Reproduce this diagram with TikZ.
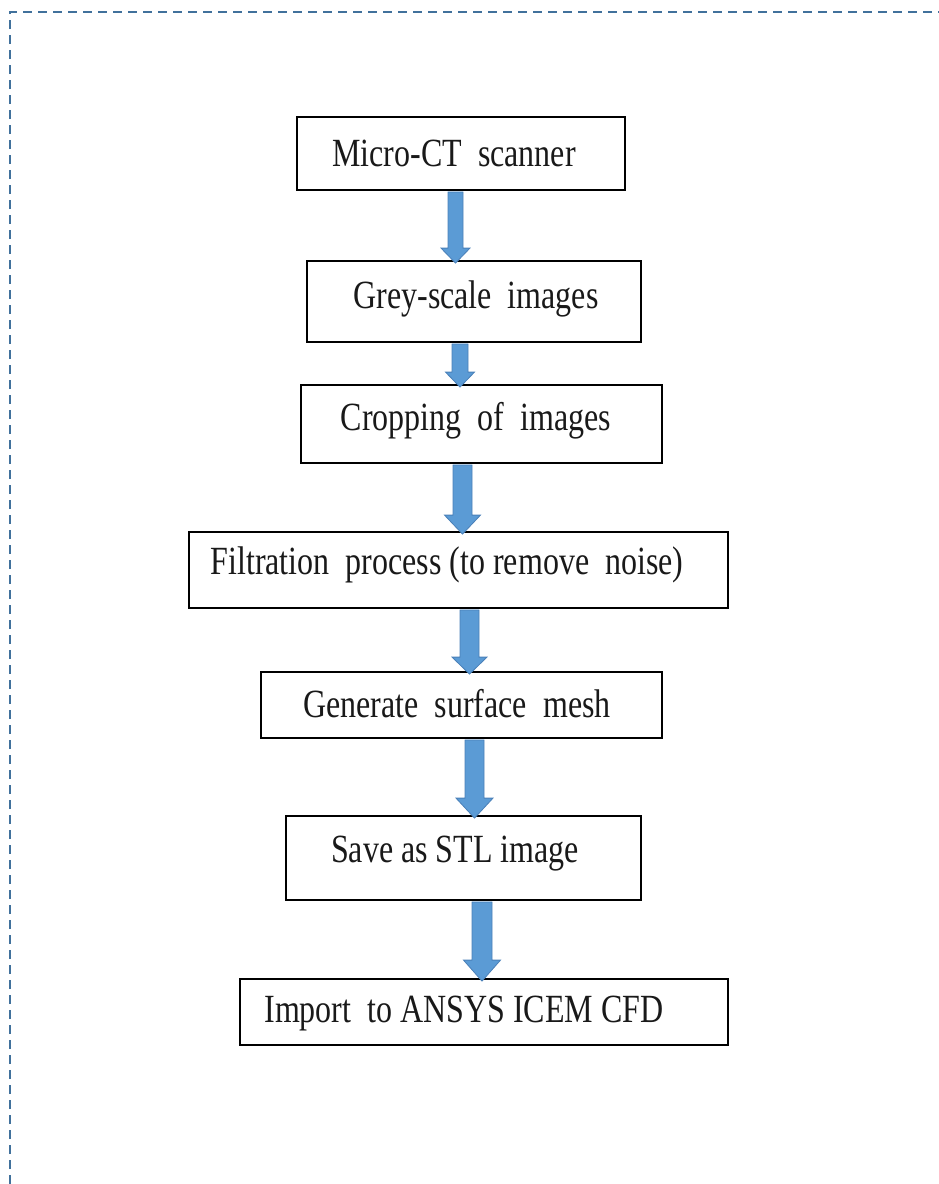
\documentclass[tikz,border=0pt]{standalone}
\usepackage{graphicx}
\usepackage{fontspec}
\setmainfont{Liberation Serif}
\usetikzlibrary{calc}

\definecolor{frameblue}{HTML}{41719C}
\definecolor{arrowfill}{HTML}{5B9BD5}
\definecolor{arrowline}{HTML}{4A80B8}

% Vertically stretched label text
\newcommand\tallText[1]{\scalebox{1}[1.25]{#1}}

% Block arrow from the bottom of one step to the top of the next.
% #1 from, #2 to, #3 x position, #4 shaft half width, #5 head half width, #6 head length
\newcommand\flowarrow[6]{%
  \path[blockarrow] let \p1=(#1.south), \p2=(#2.north), \p3=(#3,0) in
    (\x3-#4pt,\y1-1pt) -- (\x3+#4pt,\y1-1pt) -- (\x3+#4pt,\y2-3pt+#6pt)
    -- (\x3+#5pt,\y2-3pt+#6pt) -- (\x3,\y2-3pt) -- (\x3-#5pt,\y2-3pt+#6pt)
    -- (\x3-#4pt,\y2-3pt+#6pt) -- cycle;}

\begin{document}
\begin{tikzpicture}[x=1pt,y=-1pt,
  stepbox/.style={draw=black,line width=1.8pt,rectangle,inner sep=0pt},
  steptext/.style={anchor=base,inner sep=0pt,font=\fontsize{32}{38}\selectfont,text=black!90},
  blockarrow/.style={fill=arrowfill,draw=arrowline,line width=0.8pt,line join=miter},
  framestyle/.style={draw=frameblue,line width=2.8pt,dash pattern=on 9pt off 6pt}]

\useasboundingbox (0,0) rectangle (939,1184);

% dashed outer frame
\coordinate (fbl) at (10,1184);
\coordinate (ftl) at (10,12);
\coordinate (ftr) at (939,12);
\draw[framestyle] (fbl) -- (ftl) -- (ftr);

% process steps
\node[stepbox,minimum width=328pt,minimum height=73pt] (m1) at (461,153.5) {};
\node[stepbox,minimum width=334pt,minimum height=81pt] (m2) at (474,301.5) {};
\node[stepbox,minimum width=361pt,minimum height=78pt] (m3) at (481.5,424) {};
\node[stepbox,minimum width=539pt,minimum height=76pt] (m4) at (458.5,570) {};
\node[stepbox,minimum width=401pt,minimum height=66pt] (m5) at (461.5,705) {};
\node[stepbox,minimum width=355pt,minimum height=84pt] (m6) at (463.5,858) {};
\node[stepbox,minimum width=488pt,minimum height=66pt] (m7) at (484,1012) {};

\node[steptext] (t1) at (454,166)  {\tallText{Micro-CT\ \ scanner}};
\node[steptext] (t2) at (476,308)  {\tallText{Grey-scale\ \ images}};
\node[steptext] (t3) at (476,430)  {\tallText{Cropping\ \ of\ \ images}};
\node[steptext] (t4) at (447,574)  {\tallText{Filtration\ \ process (to remove\ \ noise)}};
\node[steptext] (t5) at (457,717)  {\tallText{Generate\ \ surface\ \ mesh}};
\node[steptext] (t6) at (455,862)  {\tallText{Save as STL image}};
\node[steptext] (t7) at (464,1022) {\tallText{Import\ \ to ANSYS ICEM CFD}};

% block arrows between the steps
\flowarrow{m1}{m2}{455.5}{7.5}{14.5}{15}
\flowarrow{m2}{m3}{460}{8}{14.5}{15}
\flowarrow{m3}{m4}{462.5}{9.5}{18}{19}
\flowarrow{m4}{m5}{469.5}{9.5}{17.5}{17}
\flowarrow{m5}{m6}{474.5}{9.5}{18.5}{20}
\flowarrow{m6}{m7}{482}{10}{18.5}{21}

\end{tikzpicture}
\end{document}
